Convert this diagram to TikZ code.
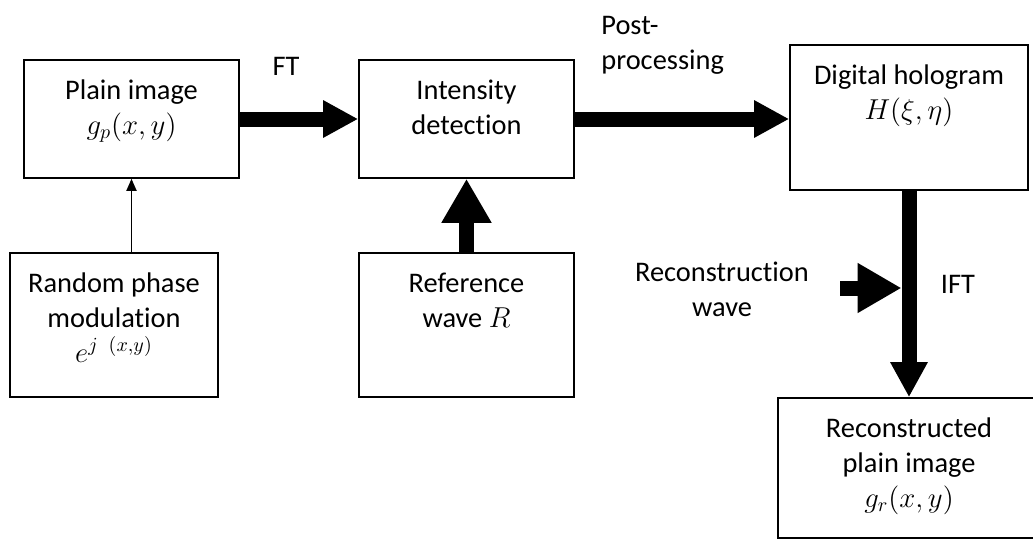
\documentclass[tikz,border=0pt]{standalone}
\usepackage{amsmath}
\usepackage{fontspec}
\setmainfont[Ligatures=NoCommon]{Carlito}
\usetikzlibrary{arrows.meta,positioning,calc}

\begin{document}
\begin{tikzpicture}[x=0.5pt, y=-0.5pt,
        box/.style={rectangle, draw, line width=0.8pt},
        txt/.style={anchor=north, align=center, inner sep=0pt, yshift=-10pt,
                    font=\fontsize{14.2}{17.5}\selectfont},
        lbl/.style={align=center, inner sep=0pt, font=\fontsize{14.2}{17.5}\selectfont},
        bigarrow/.style={-{Triangle[width=17.5pt, length=17.5pt]}, line width=7.5pt},
        widearrow/.style={-{Triangle[width=23.5pt, length=22pt]}, line width=7.5pt},
        thinarrow/.style={-{Triangle[width=5pt, length=6pt]}, line width=0.9pt}
      ]
        \useasboundingbox (0,0) rectangle (1033,541);
        \clip (0,0) rectangle (1033,541);

        % blocks
        \node[box, minimum width=107.5pt, minimum height=59pt,
              label={[txt]north:{Plain image\\$g_p(x,y)$}}] (plain) at (131.5,119) {};
        \node[box, minimum width=104pt, minimum height=72pt,
              label={[txt]north:{Random phase\\modulation\\$e^{j\;\;(x,y)}$}}] (rand) at (114,325) {};
        \node[box, minimum width=107.5pt, minimum height=59pt,
              label={[txt]north:{Intensity\\detection}}] (intens) at (466.5,119) {};
        \node[box, minimum width=107.5pt, minimum height=72pt,
              label={[txt]north:{Reference\\wave $R$}}] (ref) at (466.5,325) {};
        \node[box, minimum width=119pt, minimum height=72.5pt,
              label={[txt]north:{Digital hologram\\$H(\xi,\eta)$}}] (holo) at (909,117.5) {};
        \node[box, minimum width=131pt, minimum height=70pt,
              label={[txt]north:{Reconstructed\\plain image\\$g_r(x,y)$}}] (recon) at (909,468) {};

        % free labels
        \node[lbl] (ft) at (286,66) {FT};
        \node[lbl, align=left, anchor=west] (post) at (601,45) {Post-\\processing};
        \node[lbl] (rwave) at (722,289) {Reconstruction\\wave};
        \node[lbl] (ift) at (958,284) {IFT};
        \coordinate (rwin) at (840,288);

        % arrows
        \draw[thinarrow] (rand.north -| plain.south) -- (plain.south);
        \draw[bigarrow] (plain) -- (intens);
        \draw[widearrow] (ref) -- (intens);
        \draw[bigarrow] (intens.east) -- (intens.east -| holo.west);
        \draw[bigarrow] (holo) -- (recon);
        \draw[widearrow] (rwin) -- ([xshift=-3.75pt]rwin -| holo.south);
      \end{tikzpicture}
\end{document}
